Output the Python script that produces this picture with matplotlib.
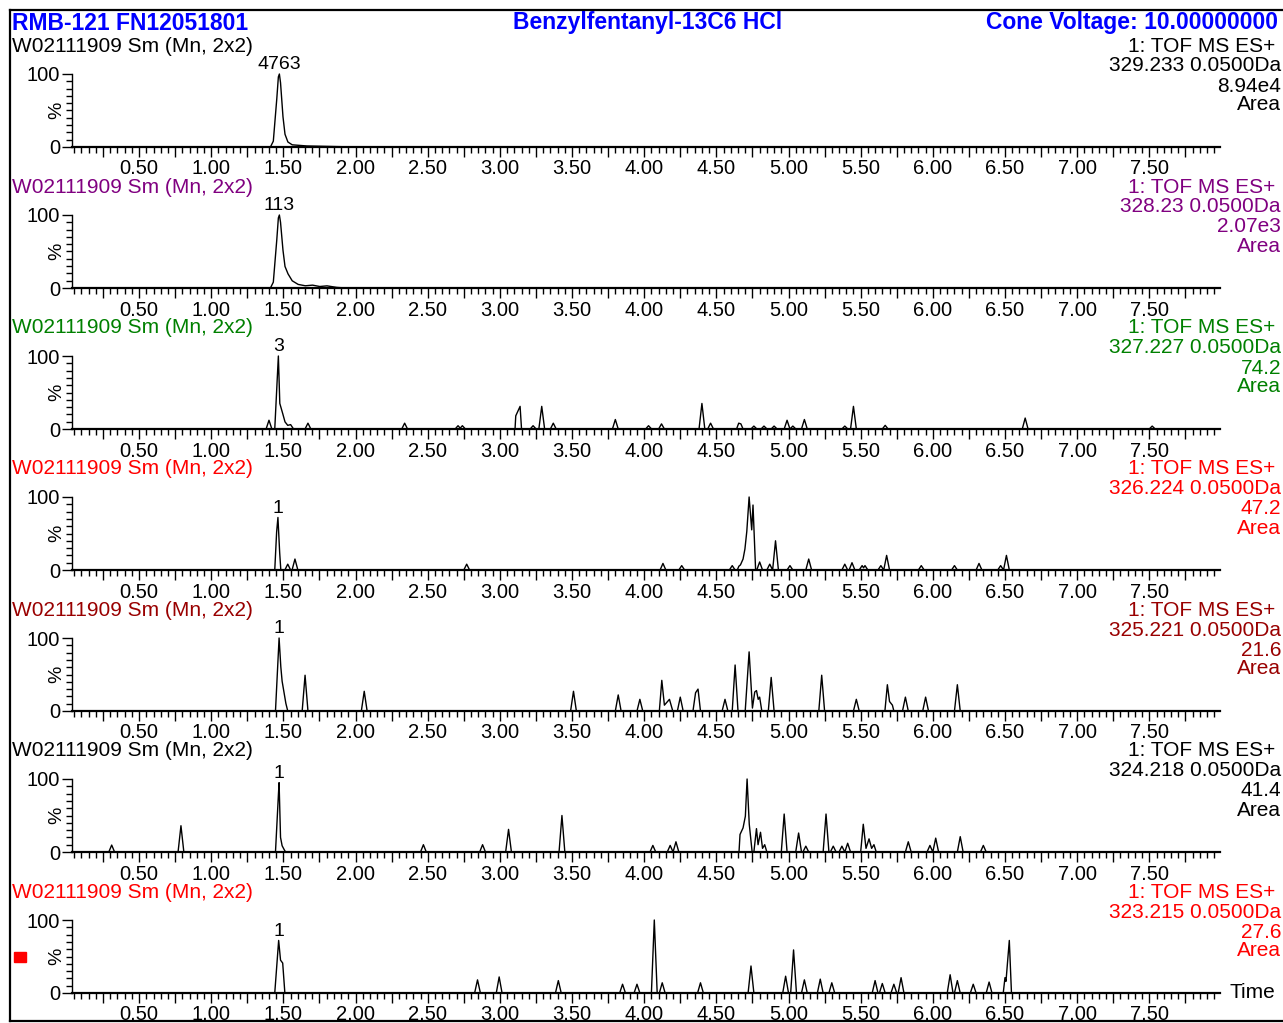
import numpy as np
import matplotlib
matplotlib.use("Agg")
import matplotlib.pyplot as plt
from matplotlib.ticker import MultipleLocator, FuncFormatter, FixedLocator
from matplotlib.patches import Rectangle
from matplotlib.lines import Line2D

plt.rcParams['font.family'] = ['Liberation Sans', 'DejaVu Sans']

W, H = 1283, 1023

# ---- header / labels ----
header_left = "RMB-121 FN12051801"
header_mid = "Benzylfentanyl-13C6 HCl"
header_right = "Cone Voltage: 10.00000000"

sample = "W02111909 Sm (Mn, 2x2)"
func_name = "1: TOF MS ES+ "
masses = ["329.233 0.0500Da", "328.23 0.0500Da", "327.227 0.0500Da", "326.224 0.0500Da",
          "325.221 0.0500Da", "324.218 0.0500Da", "323.215 0.0500Da"]
max_int = ["8.94e4", "2.07e3", "74.2", "47.2", "21.6", "41.4", "27.6"]
peak_tags = ["4763", "113", "3", "1", "1", "1", "1"]
text_colors = ["black", "#800080", "#008000", "#ff0000", "#990000", "black", "#ff0000"]

# ---- chromatogram data (time in min, intensity in %) ----
# main peak shapes, read point by point
p1_main_t = [1.41, 1.43, 1.45, 1.465, 1.472, 1.48, 1.495, 1.51, 1.53, 1.56, 1.65, 1.80, 2.00]
p1_main_i = [0, 8, 55, 96, 100, 88, 45, 18, 7, 3, 1.5, 0.8, 0]

p2_main_t = [1.41, 1.43, 1.45, 1.465, 1.472, 1.48, 1.495, 1.51, 1.53, 1.56, 1.60, 1.65, 1.70, 1.75, 1.80, 1.86, 1.92]
p2_main_i = [0, 8, 55, 96, 100, 90, 55, 30, 20, 10, 5, 3, 4, 2, 3, 1, 0]

p3_main_t = [1.44, 1.455, 1.465, 1.475, 1.49, 1.51, 1.53, 1.55, 1.57]
p3_main_i = [0, 60, 100, 35, 25, 10, 5, 6, 0]
p3_clu1_t = [3.105, 3.11, 3.14, 3.15]
p3_clu1_i = [0, 18, 31, 0]
p3_clu2_t = [4.64, 4.655, 4.67, 4.685]
p3_clu2_i = [0, 8, 7, 0]
p3_peak_t = [1.40, 1.67, 2.34, 2.71, 2.74, 3.23, 3.29, 3.37, 3.80, 4.03, 4.12, 4.40, 4.46,
             4.76, 4.83, 4.90, 4.99, 5.03, 5.11, 5.39, 5.45, 5.67, 6.64, 7.52]
p3_peak_h = [12, 8, 8, 4.5, 4.5, 4.5, 31, 8, 13, 4.5, 7, 35, 8,
             4, 4, 4, 12, 4, 13, 4, 31, 5, 15, 4]

p4_main_t = [1.44, 1.452, 1.462, 1.472, 1.482]
p4_main_i = [0, 50, 72, 30, 0]
p4_clu1_t = [4.645, 4.655, 4.667, 4.685, 4.697, 4.710, 4.727, 4.745, 4.754, 4.772]
p4_clu1_i = [0, 5, 7, 15, 27, 50, 100, 55, 89, 0]
p4_peak_t = [1.53, 1.58, 2.77, 4.13, 4.26, 4.61, 4.80, 4.87, 4.91, 5.01, 5.14, 5.39, 5.44,
             5.51, 5.53, 5.64, 5.68, 5.92, 6.15, 6.32, 6.47, 6.51]
p4_peak_h = [8, 15, 8, 9, 6, 6, 11, 8, 40, 6, 15, 8, 10,
             6, 6, 6, 20, 6, 6, 9, 6, 20]

p5_main_t = [1.445, 1.46, 1.47, 1.48, 1.49, 1.50, 1.515, 1.53]
p5_main_i = [0, 60, 100, 65, 42, 30, 12, 0]
p5_clu1_t = [4.105, 4.122, 4.14, 4.157, 4.175, 4.198]
p5_clu1_i = [0, 42, 8, 12, 16, 0]
p5_clu2_t = [4.338, 4.356, 4.373, 4.39]
p5_clu2_i = [0, 25, 30, 0]
p5_clu3_t = [4.70, 4.727, 4.75, 4.766, 4.778, 4.79, 4.80, 4.815]
p5_clu3_i = [0, 81, 4, 26, 28, 16, 19, 0]
p5_clu4_t = [5.668, 5.685, 5.70, 5.72, 5.73]
p5_clu4_i = [0, 36, 13, 8, 0]
p5_peak_t = [1.65, 2.06, 3.51, 3.82, 3.97, 4.25, 4.56, 4.63, 4.88, 5.23, 5.47, 5.81, 5.95, 6.17]
p5_peak_h = [49, 27, 27, 22, 16, 19, 16, 63, 46, 49, 16, 19, 19, 36]

p6_main_t = [1.445, 1.46, 1.47, 1.48, 1.49, 1.50, 1.515]
p6_main_i = [0, 60, 95, 20, 9, 5, 0]
p6_clu1_t = [4.657, 4.664, 4.685, 4.701, 4.713, 4.727, 4.748]
p6_clu1_i = [0, 24, 33, 49, 100, 40, 0]
p6_clu2_t = [4.76, 4.778, 4.789, 4.806, 4.82, 4.835, 4.85]
p6_clu2_i = [0, 32, 10, 27, 5, 10, 0]
p6_clu3_t = [5.50, 5.518, 5.537, 5.558, 5.576, 5.592, 5.608]
p6_clu3_i = [0, 38, 5, 18, 5, 10, 0]
p6_peak_t = [0.31, 0.79, 2.47, 2.88, 3.06, 3.43, 4.06, 4.18, 4.22, 4.97, 5.07, 5.12,
             5.26, 5.31, 5.37, 5.41, 5.83, 5.98, 6.02, 6.19, 6.35]
p6_peak_h = [9.5, 36, 10, 10, 31, 50, 9, 9, 14, 52, 26, 8,
             52, 8, 8, 12, 14, 9, 19, 21, 9]

p7_main_t = [1.44, 1.455, 1.467, 1.48, 1.495, 1.51]
p7_main_i = [0, 40, 72, 45, 41, 0]
p7_clu1_t = [6.488, 6.50, 6.507, 6.53, 6.545]
p7_clu1_i = [0, 21, 16, 72, 0]
p7_peak_t = [2.845, 2.995, 3.405, 3.85, 3.95, 4.07, 4.125, 4.39, 4.74, 4.98, 5.035, 5.11,
             5.22, 5.30, 5.60, 5.65, 5.73, 5.78, 6.12, 6.17, 6.28, 6.39]
p7_peak_h = [18, 22, 17, 12, 12, 100, 14, 14, 37, 23, 59, 18,
             19, 14, 17, 13, 12, 21, 25, 17, 12, 15]

panels = [
    ((p1_main_t, p1_main_i), [], [], []),
    ((p2_main_t, p2_main_i), [], [], []),
    ((p3_main_t, p3_main_i), [(p3_clu1_t, p3_clu1_i), (p3_clu2_t, p3_clu2_i)], p3_peak_t, p3_peak_h),
    ((p4_main_t, p4_main_i), [(p4_clu1_t, p4_clu1_i)], p4_peak_t, p4_peak_h),
    ((p5_main_t, p5_main_i), [(p5_clu1_t, p5_clu1_i), (p5_clu2_t, p5_clu2_i),
                              (p5_clu3_t, p5_clu3_i), (p5_clu4_t, p5_clu4_i)], p5_peak_t, p5_peak_h),
    ((p6_main_t, p6_main_i), [(p6_clu1_t, p6_clu1_i), (p6_clu2_t, p6_clu2_i),
                              (p6_clu3_t, p6_clu3_i)], p6_peak_t, p6_peak_h),
    ((p7_main_t, p7_main_i), [(p7_clu1_t, p7_clu1_i)], p7_peak_t, p7_peak_h),
]

XMIN, XMAX = 0.035, 7.99
HW = 0.02  # half base width of the small spikes


def fx(x):
    return x / W


def fy(y):
    return 1 - y / H


def trace(main, clusters, pt, ph):
    # max envelope of the read peaks on a fine time axis (drawing only)
    t = np.arange(XMIN, XMAX, 0.001)
    y = np.zeros_like(t)
    for ct, ci in [main] + clusters:
        y = np.maximum(y, np.interp(t, ct, ci, left=0, right=0))
    for a, h in zip(pt, ph):
        y = np.maximum(y, h * np.clip(1 - np.abs(t - a) / HW, 0, None))
    return t, y


fig = plt.figure(figsize=(W / 100, H / 100), dpi=100)

FS = 15
for k in range(7):
    base = 147 + 141 * k
    ax = fig.add_axes([fx(72), fy(base), fx(1148), 73 / H])
    t, y = trace(*panels[k])
    ax.plot(t, y, color="black", lw=1.0, clip_on=False)
    ax.set_xlim(XMIN, XMAX)
    ax.set_ylim(0, 100)
    for s in ["top", "right"]:
        ax.spines[s].set_visible(False)
    ax.spines["bottom"].set_linewidth(1.6)
    ax.spines["left"].set_linewidth(1.0)
    ax.patch.set_alpha(0)

    ax.xaxis.set_major_locator(MultipleLocator(0.25))
    ax.xaxis.set_minor_locator(MultipleLocator(0.05))
    ax.xaxis.set_major_formatter(FuncFormatter(
        lambda v, p: "%.2f" % v if abs(v * 2 - round(v * 2)) < 1e-6 else ""))
    ax.tick_params(axis="x", which="major", length=7, width=1.0, pad=2, labelsize=14.5)
    ax.tick_params(axis="x", which="minor", length=4, width=1.0)
    ax.yaxis.set_major_locator(FixedLocator([0, 100]))
    ax.yaxis.set_minor_locator(MultipleLocator(10))
    ax.tick_params(axis="y", which="major", length=7, width=1.0, pad=1.5, labelsize=14.5)
    ax.tick_params(axis="y", which="minor", length=4, width=1.0)
    ax.text(-0.013, 0.5, "%", rotation=90, transform=ax.transAxes,
            ha="center", va="center", fontsize=14)

    # tag over the biggest point of the main peak
    mt, mi = panels[k][0]
    j = int(np.argmax(mi))
    ax.annotate(peak_tags[k], (mt[j], mi[j]), xytext=(0, 0.5), textcoords="offset points",
                ha="center", va="bottom", fontsize=14, annotation_clip=False)

    c = text_colors[k]
    top = 46 + 141 * k
    fig.text(fx(12), fy(top), sample, color=c, fontsize=FS, va="center", ha="left")
    fig.text(fx(1281), fy(top), func_name, color=c, fontsize=FS, va="center", ha="right")
    fig.text(fx(1281), fy(top + 20), masses[k], color=c, fontsize=FS, va="center", ha="right")
    fig.text(fx(1281), fy(top + 40), max_int[k], color=c, fontsize=FS, va="center", ha="right")
    fig.text(fx(1281), fy(top + 59), "Area", color=c, fontsize=FS, va="center", ha="right")

# header line
fig.text(fx(12), fy(23), header_left, color="#0000ff", fontsize=16.5, weight="bold", va="center")
fig.text(fx(648), fy(23), header_mid, color="#0000ff", fontsize=16.5, weight="bold",
         va="center", ha="center")
fig.text(fx(986), fy(23), header_right, color="#0000ff", fontsize=16.5, weight="bold", va="center")

fig.text(fx(1229), fy(993), "Time", fontsize=FS, va="center", ha="left")

# frame around everything
for xs, ys in [((10, 1283), (10, 10)), ((10, 10), (10, 1021)), ((10, 1283), (1021, 1021))]:
    fig.add_artist(Line2D([fx(v) for v in xs], [fy(v) for v in ys], color="black", lw=1.6))

fig.add_artist(Rectangle((fx(14), fy(962)), 12 / W, 10 / H, color="#ff0000"))

fig.savefig("out.png", dpi=100)
